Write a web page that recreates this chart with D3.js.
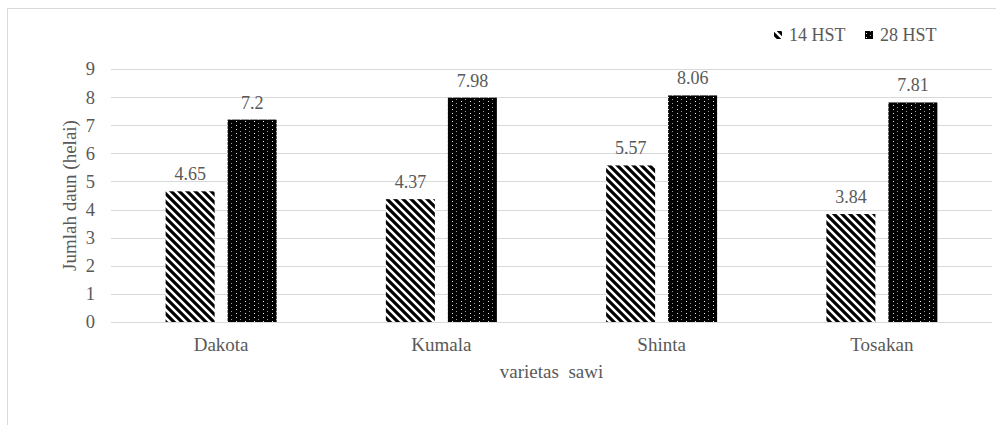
<!DOCTYPE html>
<html>
<head>
<meta charset="utf-8">
<script src="https://cdn.jsdelivr.net/npm/d3@7"></script>
<style>
  html, body { margin: 0; padding: 0; background: #fff; }
  svg { display: block; }
</style>
</head>
<body>
<svg id="chart" width="996" height="425"></svg>
<script>
// Leaf count per mustard variety at 14 and 28 days after planting
const categories = ["Dakota", "Kumala", "Shinta", "Tosakan"];
const seriesNames = ["14 HST", "28 HST"];
const hst14 = [4.65, 4.37, 5.57, 3.84];
const hst28 = [7.2, 7.98, 8.06, 7.81];
const yTicks = [0, 1, 2, 3, 4, 5, 6, 7, 8, 9];
const xTitle = "varietas  sawi";
const yTitle = "Jumlah daun (helai)";

const FONT = "'Liberation Serif', 'DejaVu Serif', 'Times New Roman', serif";
const TXT = "#595959";

const svg = d3.select("#chart")
  .attr("font-family", FONT);

// fill patterns
const defs = svg.append("defs");
const stripe = defs.append("pattern")
  .attr("id", "pat14").attr("patternUnits", "userSpaceOnUse")
  .attr("width", 8).attr("height", 8);
stripe.append("rect").attr("width", 8).attr("height", 8).attr("fill", "#fff");
stripe.append("path")
  .attr("d", "M-2,2 L6,10 M-2,-6 L14,10 M2,-2 L10,6")
  .attr("stroke", "#000").attr("stroke-width", 3.2);

const dots = defs.append("pattern")
  .attr("id", "pat28").attr("patternUnits", "userSpaceOnUse")
  .attr("width", 9).attr("height", 4);
dots.append("rect").attr("width", 9).attr("height", 4).attr("fill", "#000");
dots.append("rect").attr("x", 2).attr("y", 1).attr("width", 1).attr("height", 1).attr("fill", "#e8e8e8");
dots.append("rect").attr("x", 6).attr("y", 3).attr("width", 1).attr("height", 1).attr("fill", "#9a9a9a");

// chart area border
svg.append("rect")
  .attr("x", 7.5).attr("y", 8.5).attr("width", 1000).attr("height", 440)
  .attr("fill", "none").attr("stroke", "#d9d9d9");

const x0 = d3.scaleBand().domain(categories).range([111, 992]).paddingInner(0).paddingOuter(0);
const y = d3.scaleLinear().domain([0, 9]).range([322, 69]);

// gridlines
svg.append("g").selectAll("line").data(yTicks).join("line")
  .attr("x1", 111).attr("x2", 992)
  .attr("y1", d => Math.round(y(d)) + 0.5).attr("y2", d => Math.round(y(d)) + 0.5)
  .attr("stroke", "#d9d9d9").attr("stroke-width", 1);

// y tick labels
svg.append("g").selectAll("text").data(yTicks).join("text")
  .attr("x", 95).attr("y", d => y(d))
  .attr("dy", "0.35em").attr("text-anchor", "end")
  .attr("font-family", FONT).attr("fill", TXT)
  .attr("font-size", 18.5).text(d => d);

const barW = 49, gap = 13;
const series = [
  { name: seriesNames[0], values: hst14, fill: "url(#pat14)", off: -(gap / 2 + barW) },
  { name: seriesNames[1], values: hst28, fill: "url(#pat28)", off: gap / 2 }
];

series.forEach(s => {
  const g = svg.append("g");
  g.selectAll("rect").data(s.values).join("rect")
    .attr("x", (d, i) => x0(categories[i]) + x0.bandwidth() / 2 + s.off)
    .attr("y", d => y(d))
    .attr("width", barW)
    .attr("height", d => y(0) - y(d))
    .attr("fill", s.fill);
  g.selectAll("text").data(s.values).join("text")
    .attr("x", (d, i) => x0(categories[i]) + x0.bandwidth() / 2 + s.off + barW / 2)
    .attr("y", d => y(d) - 11)
    .attr("text-anchor", "middle").attr("font-size", 18)
    .attr("font-family", FONT).attr("fill", TXT)
    .text(d => d);
});

// category labels
svg.append("g").selectAll("text").data(categories).join("text")
  .attr("x", d => x0(d) + x0.bandwidth() / 2).attr("y", 351)
  .attr("text-anchor", "middle").attr("font-size", 19)
  .attr("font-family", FONT).attr("fill", TXT).text(d => d);

// axis titles
svg.append("text").attr("x", (111 + 992) / 2).attr("y", 378)
  .attr("text-anchor", "middle").attr("font-size", 19)
  .attr("font-family", FONT).attr("fill", TXT)
  .style("white-space", "pre").text(xTitle);
svg.append("text")
  .attr("transform", `translate(69,${(69 + 322) / 2}) rotate(-90)`)
  .attr("text-anchor", "middle").attr("dy", "0.35em").attr("font-size", 19)
  .attr("font-family", FONT).attr("fill", TXT)
  .text(yTitle);

// legend
const legend = [
  { name: seriesNames[0], fill: "url(#pat14)", x: 774 },
  { name: seriesNames[1], fill: "url(#pat28)", x: 865 }
];
const lg = svg.append("g");
legend.forEach(l => {
  lg.append("rect").attr("x", l.x).attr("y", 31).attr("width", 8).attr("height", 8).attr("fill", l.fill);
  lg.append("text").attr("x", l.x + 15).attr("y", 35).attr("dy", "0.35em")
    .attr("font-size", 18).attr("font-family", FONT).attr("fill", TXT).text(l.name);
});
</script>
</body>
</html>
